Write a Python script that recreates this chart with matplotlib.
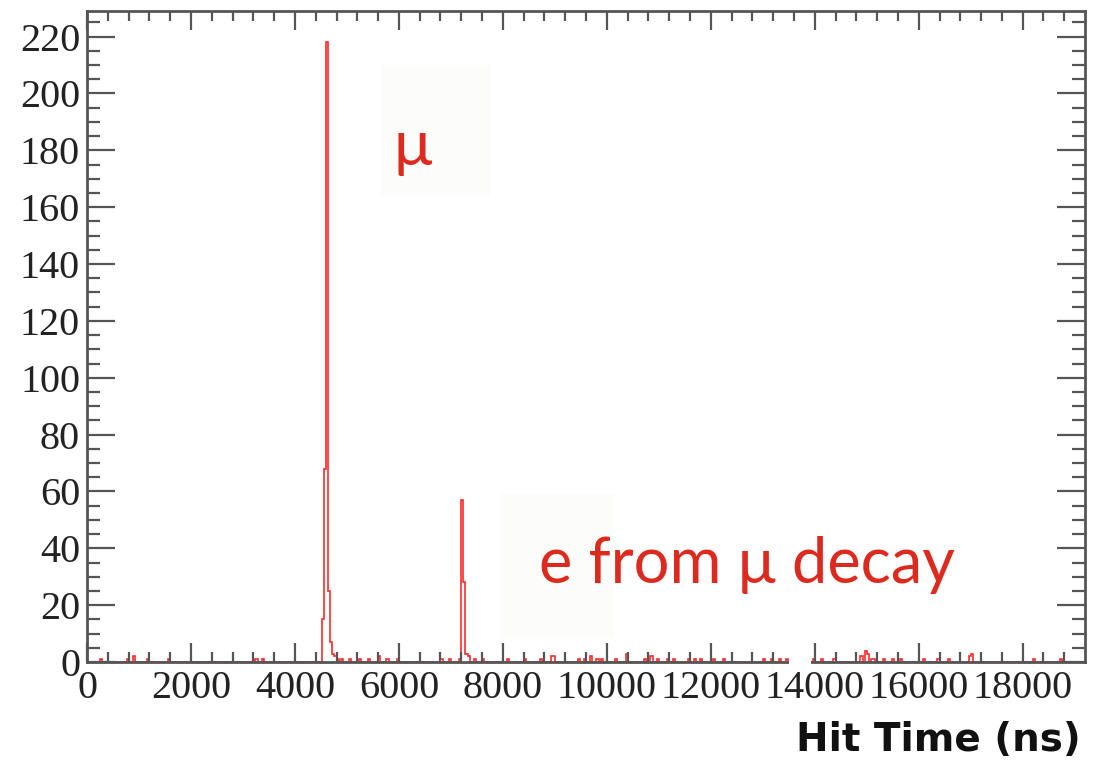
import matplotlib
matplotlib.use("Agg")
import matplotlib.pyplot as plt
from matplotlib.patches import Rectangle
import numpy as np

# histogram binning (ns)
bin_width = 40
x_max = 19200

# hit time of non-empty bins (ns, left edge) and their counts
hit_times = [240, 760, 880, 1160, 1560, 3240, 3360,
             4540, 4580, 4620, 4660, 4700, 4740, 4780, 4820,
             4880, 5040, 5240, 5400, 5600, 5760, 5960, 6800, 6960,
             7160, 7200, 7240, 7280, 7320, 7440, 7600,
             8080, 8400, 8720, 8920, 8960, 9440, 9560, 9680, 9800, 9880,
             10160, 10360, 10720, 10840, 10960, 11160, 11280,
             11560, 11680, 11800, 12040, 12240, 13000, 13160, 13320, 13440,
             13960, 14120, 14360, 14880, 14960, 15000, 15080, 15120,
             15320, 15480, 15640, 16080, 16360, 16560, 16960, 17000,
             18200, 18720]
counts = [1, 1, 2, 1, 1, 1, 1,
          15, 68, 218, 25, 7, 3, 2, 1,
          1, 1, 1, 1, 2, 1, 1, 1, 1,
          1, 57, 28, 3, 2, 1, 1,
          1, 1, 1, 2, 2, 1, 1, 2, 1, 1,
          1, 3, 1, 2, 1, 1, 1,
          1, 1, 1, 1, 1, 1, 1, 1, 1,
          1, 1, 1, 2, 4, 3, 1, 1,
          1, 1, 1, 1, 1, 1, 2, 3,
          1, 1]

x_ticks = [0, 2000, 4000, 6000, 8000, 10000, 12000, 14000, 16000, 18000]
y_ticks = [0, 20, 40, 60, 80, 100, 120, 140, 160, 180, 200, 220]

edges = np.arange(0, x_max + bin_width, bin_width)
h, _ = np.histogram(hit_times, bins=edges, weights=counts)

fig = plt.figure(figsize=(10.99, 7.65), dpi=100)
ax = fig.add_axes([0.0792, 0.1346, 0.9081, 0.851])

ax.stairs(h, edges, color="#ff2a2a", linewidth=1.2, baseline=0)

ax.set_xlim(0, x_max)
ax.set_ylim(0, 229)

gray = "#555555"
for s in ax.spines.values():
    s.set_color(gray)
    s.set_linewidth(2)

ax.set_xticks(x_ticks)
ax.set_xticks(np.arange(0, x_max, 400), minor=True)
ax.set_yticks(y_ticks)
ax.set_yticks(np.arange(0, 229, 5), minor=True)
ax.tick_params(axis="both", which="both", direction="in", color=gray, width=1.6,
               top=True, right=True)
ax.tick_params(axis="x", which="major", length=14, pad=6)
ax.tick_params(axis="x", which="minor", length=7)
ax.tick_params(axis="y", which="major", length=20, pad=5)
ax.tick_params(axis="y", which="minor", length=9.5)
for lab in ax.get_xticklabels() + ax.get_yticklabels():
    lab.set_fontfamily("Liberation Serif")
    lab.set_fontsize(29)
    lab.set_color("#222222")

# white gap in the bottom axis
ax.add_patch(Rectangle((13500, -0.01), 420, 0.045, transform=ax.get_xaxis_transform(),
                       facecolor="white", edgecolor="none", clip_on=False, zorder=5))

# faint label backgrounds
ax.add_patch(Rectangle((5650, 164), 2100, 46, facecolor="#fcfcfa", edgecolor="none", zorder=0))
ax.add_patch(Rectangle((7950, 8), 2200, 51, facecolor="#fcfcfa", edgecolor="none", zorder=0))

red = "#dd2a1e"
ax.text(5900, 181, "μ", color=red, fontsize=46, family="Lato", ha="left", va="center")
ax.text(8700, 34, "e from μ decay", color=red, fontsize=45.5, family="Lato",
        ha="left", va="center")

fig.text(0.983, 0.018, "Hit Time (ns)", ha="right", va="baseline",
         family="DejaVu Sans", fontweight="bold", fontsize=28, color="#111111")

fig.savefig("out.png", dpi=100, facecolor="white")
